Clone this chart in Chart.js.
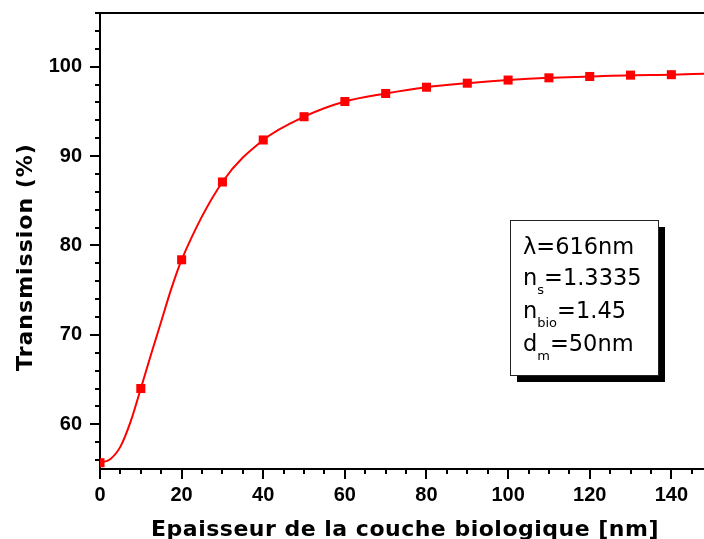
<!DOCTYPE html>
<html>
<head>
<meta charset="utf-8">
<script src="https://cdn.jsdelivr.net/npm/chart.js@4"></script>
<style>
  body { margin: 0; background: #fff; }
  canvas { display: block; }
</style>
</head>
<body>
<canvas id="chart" width="704" height="539"></canvas>
<script>
// measured points (thickness in nm, transmission in %)
var thickness = [0, 10, 20, 30, 40, 50, 60, 70, 80, 90, 100, 110, 120, 130, 140];
var transmission = [55.7, 64.0, 78.4, 87.1, 91.8, 94.4, 96.1, 97.0, 97.7, 98.15, 98.5, 98.75, 98.9, 99.05, 99.1];
// fitted curve (denser where it bends, runs to the right edge)
var curveX = [0, 2.5, 5, 7.5, 10, 12.5, 15, 17.5, 20, 30, 40, 50, 60, 70, 80, 90, 100, 110, 120, 130, 140, 148];
var curveY = [55.7, 56.1, 57.5, 60.3, 64.0, 67.8, 71.5, 75.2, 78.4, 87.1, 91.8, 94.4, 96.1, 97.0, 97.7, 98.15, 98.5, 98.75, 98.9, 99.05, 99.1, 99.2];

var xTicks = [0, 20, 40, 60, 80, 100, 120, 140];
var yTicks = [60, 70, 80, 90, 100];
var xMinor = 5, yMinor = 2;

var xTitle = 'Epaisseur de la couche biologique [nm]';
var yTitle = 'Transmission (%)';

var pts = thickness.map(function (x, i) { return {x: x, y: transmission[i]}; });
var curve = curveX.map(function (x, i) { return {x: x, y: curveY[i]}; });

function noPad(s) {
    s.paddingTop = 0; s.paddingBottom = 0; s.paddingLeft = 0; s.paddingRight = 0;
}

var extras = {
    id: 'extras',
    afterDraw: function (chart) {
        var ctx = chart.ctx, a = chart.chartArea;
        var xs = chart.scales.x, ys = chart.scales.y;
        ctx.save();
        ctx.strokeStyle = '#000';
        ctx.lineWidth = 2;
        // top frame line
        ctx.beginPath();
        ctx.moveTo(a.left - 1, a.top);
        ctx.lineTo(a.right, a.top);
        ctx.stroke();
        // tick marks
        for (var v = xs.min; v <= xs.max; v += xMinor) {
            var px = Math.round(xs.getPixelForValue(v));
            var len = (v % 20 === 0) ? 10 : 5;
            ctx.beginPath();
            ctx.moveTo(px, a.bottom);
            ctx.lineTo(px, a.bottom + len);
            ctx.stroke();
        }
        for (var w = 56; w <= ys.max; w += yMinor) {
            var py = Math.round(ys.getPixelForValue(w));
            var l2 = (w % 10 === 0) ? 10 : 5;
            ctx.beginPath();
            ctx.moveTo(a.left, py);
            ctx.lineTo(a.left - l2, py);
            ctx.stroke();
        }
        // axis titles
        ctx.fillStyle = '#000';
        ctx.font = 'bold 22px "DejaVu Sans"';
        ctx.textAlign = 'center';
        ctx.textBaseline = 'alphabetic';
        ctx.letterSpacing = '0.5px';
        ctx.fillText(xTitle, 405, 536);
        ctx.letterSpacing = '1px';
        ctx.save();
        ctx.translate(32, 257);
        ctx.rotate(-Math.PI / 2);
        ctx.fillText(yTitle, 0, 0);
        ctx.restore();
        ctx.letterSpacing = '0px';

        // parameter box with shadow
        var bx = 510, by = 220, bw = 148, bh = 155;
        ctx.fillStyle = '#000';
        ctx.fillRect(bx + 7, by + 7, bw, bh);
        ctx.fillStyle = '#fff';
        ctx.fillRect(bx, by, bw, bh);
        ctx.lineWidth = 1;
        ctx.strokeStyle = '#222';
        ctx.strokeRect(bx + 0.5, by + 0.5, bw, bh);

        ctx.fillStyle = '#000';
        ctx.textAlign = 'left';
        var big = '22.5px "DejaVu Sans"', small = '13px "DejaVu Sans"';
        var lines = [
            ['\u03bb', '', '=616nm'],
            ['n', 's', '=1.3335'],
            ['n', 'bio', '=1.45'],
            ['d', 'm', '=50nm']
        ];
        var base = [254, 285, 318, 351];
        lines.forEach(function (ln, i) {
            var x = 523, y = base[i];
            ctx.font = big;
            ctx.fillText(ln[0], x, y);
            x += ctx.measureText(ln[0]).width;
            if (ln[1]) {
                ctx.font = small;
                ctx.fillText(ln[1], x, y + 9);
                x += ctx.measureText(ln[1]).width;
            }
            ctx.font = big;
            ctx.fillText(ln[2], x, y);
        });
        ctx.restore();
    }
};

new Chart(document.getElementById('chart'), {
    type: 'scatter',
    data: {
        datasets: [{
            label: 'fit',
            data: curve,
            showLine: true,
            borderColor: '#ff0000',
            borderWidth: 2,
            cubicInterpolationMode: 'monotone',
            pointRadius: 0
        }, {
            label: 'points',
            data: pts,
            showLine: false,
            pointStyle: 'rect',
            pointRadius: 6.4,
            pointBorderWidth: 0,
            backgroundColor: '#ff0000',
            borderColor: '#ff0000'
        }]
    },
    options: {
        responsive: false,
        animation: false,
        devicePixelRatio: 1,
        layout: { autoPadding: false, padding: { top: 13, left: 0, right: 0, bottom: 0 } },
        plugins: { legend: { display: false }, tooltip: { enabled: false } },
        scales: {
            x: {
                type: 'linear',
                min: 0,
                max: 148,
                afterBuildTicks: function (s) { s.ticks = xTicks.map(function (v) { return {value: v}; }); },
                afterFit: function (s) { s.height = 70; noPad(s); },
                grid: { display: true, drawOnChartArea: false, drawTicks: false },
                border: { display: true, color: '#000', width: 2 },
                ticks: {
                    color: '#000',
                    padding: 14,
                    maxRotation: 0,
                    font: { family: '"Liberation Sans"', weight: 'bold', size: 20 }
                }
            },
            y: {
                type: 'linear',
                min: 55,
                max: 106,
                afterBuildTicks: function (s) { s.ticks = yTicks.map(function (v) { return {value: v}; }); },
                afterFit: function (s) { s.width = 100; noPad(s); },
                grid: { display: true, drawOnChartArea: false, drawTicks: false },
                border: { display: true, color: '#000', width: 2 },
                ticks: {
                    color: '#000',
                    padding: 18,
                    font: { family: '"Liberation Sans"', weight: 'bold', size: 20 }
                }
            }
        }
    },
    plugins: [extras]
});
</script>
</body>
</html>
